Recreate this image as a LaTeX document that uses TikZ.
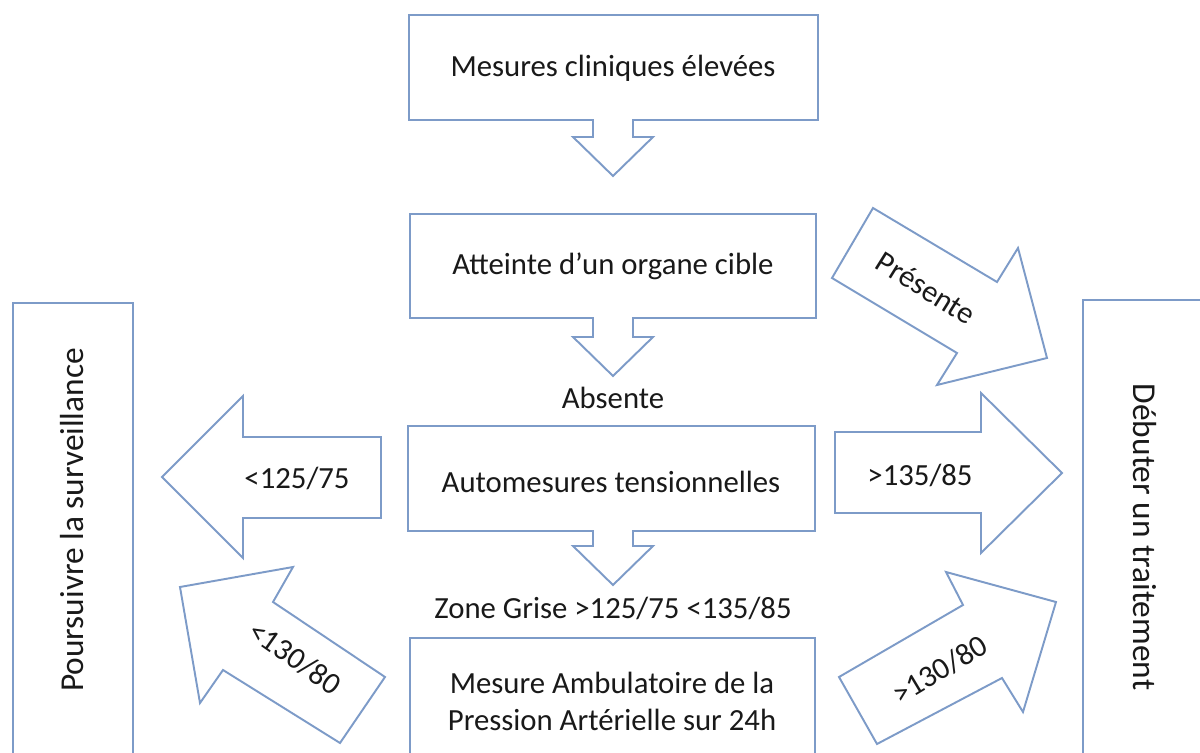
\documentclass[tikz,border=0pt]{standalone}
\usepackage{fontspec}
\setmainfont{Carlito}
\definecolor{edge}{RGB}{125,155,200}
\definecolor{txt}{RGB}{25,25,25}
\tikzset{
  blockshape/.style={draw=edge, line width=1.1pt, fill=white, line join=miter},
  lbl/.style={text=txt, font=\fontsize{17.5}{21}\selectfont, inner sep=0pt, align=center},
  sidelbl/.style={text=txt, font=\fontsize{19}{22}\selectfont, inner sep=0pt},
}
\begin{document}
\begin{tikzpicture}[x=0.02cm,y=-0.02cm]
\useasboundingbox (0,0) rectangle (1200,753);
\clip (0,0) rectangle (1200,753);
% side boxes
\draw[blockshape] (13,303) rectangle (133,800);
\draw[blockshape] (1083,300) rectangle (1260,800);
% box 1 with down arrow
\draw[blockshape] (409,15) -- (818,15) -- (818,120) -- (633,120) -- (633,137) -- (653,137) -- (613,176) -- (573,137) -- (593,137) -- (593,120) -- (409,120) -- cycle;
% box 2 with down arrow
\draw[blockshape] (410,214) -- (816,214) -- (816,318) -- (633,318) -- (633,337) -- (653,337) -- (613,376) -- (573,337) -- (593,337) -- (593,318) -- (410,318) -- cycle;
% box 3 with down arrow
\draw[blockshape] (408,426) -- (815,426) -- (815,531) -- (633,531) -- (633,546) -- (653,546) -- (613,585) -- (573,546) -- (593,546) -- (593,531) -- (408,531) -- cycle;
% box 4
\draw[blockshape] (410,638) rectangle (815,800);
% left arrow <125/75
\draw[blockshape] (381,437) -- (243,437) -- (243,396) -- (162,477) -- (243,558) -- (243,518) -- (381,518) -- cycle;
% right arrow >135/85
\draw[blockshape] (835,432) -- (981,432) -- (981,393) -- (1062,473) -- (981,553) -- (981,513) -- (835,513) -- cycle;
% Presente arrow
\draw[blockshape] (832,278) -- (873,208) -- (997,282) -- (1018,248) -- (1047,358) -- (937,385) -- (957,353) -- cycle;
% <130/80 arrow
\draw[blockshape] (385,677) -- (273,602) -- (293,567) -- (180,587) -- (200,703) -- (223,670) -- (340,743) -- cycle;
% >130/80 arrow
\draw[blockshape] (839,677) -- (963,605) -- (946,572) -- (1056,602) -- (1023,712) -- (1002,678) -- (877,744) -- cycle;
% texts
\node[lbl] (t1) at (613,68) {Mesures cliniques élevées};
\node[lbl] (t2) at (613,266) {Atteinte d’un organe cible};
\node[lbl] (abs) at (613,398) {Absente};
\node[lbl] (t3) at (611,482) {Automesures tensionnelles};
\node[lbl] (zg) at (613,608) {Zone Grise >125/75 <135/85};
\node[lbl] (t4) at (612,701) {Mesure Ambulatoire de la\\Pression Artérielle sur 24h};
\node[sidelbl, rotate=90] (left) at (72,520) {Poursuivre la surveillance};
\node[sidelbl, rotate=-90] (right) at (1145,537) {Débuter un traitement};
\node[lbl] (a1) at (297,478) {<125/75};
\node[lbl] (a2) at (920,475) {>135/85};
\node[lbl, rotate=-32] (a3) at (926,288) {Présente};
\node[lbl, rotate=-35] (a4) at (295,658) {<130/80};
\node[lbl, rotate=31] (a5) at (940,670) {>130/80};
\end{tikzpicture}
\end{document}
